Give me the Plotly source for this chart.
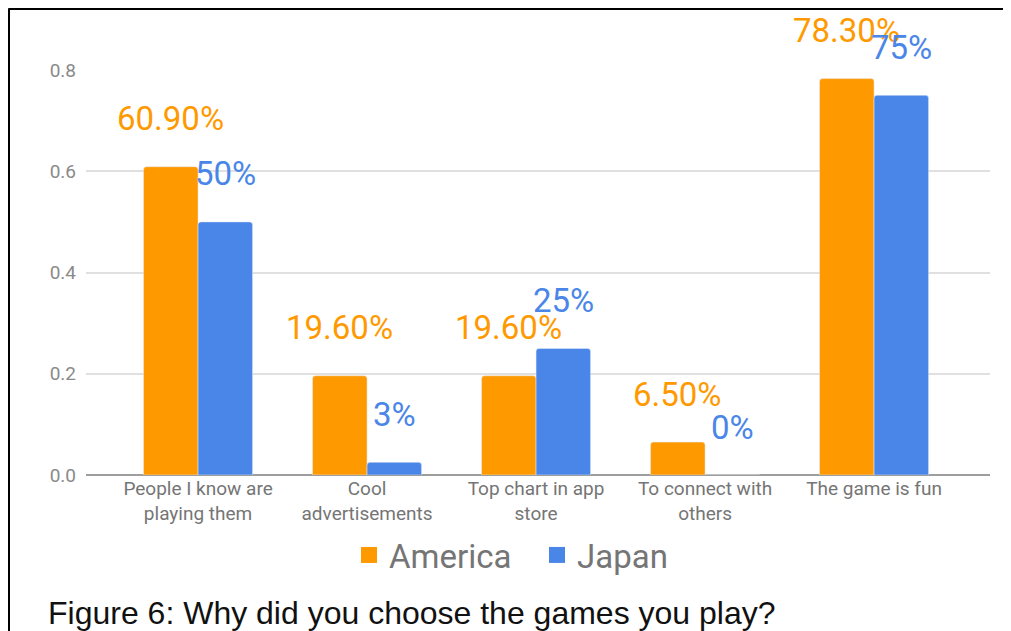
import plotly.graph_objects as go

categories = ["People I know are<br>playing them", "Cool<br>advertisements",
              "Top chart in app<br>store", "To connect with<br>others", "The game is fun"]
america = [0.609, 0.196, 0.196, 0.065, 0.783]
japan = [0.50, 0.025, 0.25, 0.0, 0.75]
america_labels = ["60.90%", "19.60%", "19.60%", "6.50%", "78.30%"]
japan_labels = ["50%", "3%", "25%", "0%", "75%"]
series_names = ["America", "Japan"]
caption = "Figure 6: Why did you choose the games you play?"

ORANGE = "#FF9900"
BLUE = "#4A86E8"
BARGAP = 0.355
OFF = 8  # page body offset in the screenshot

W, H = 1011 - OFF, 631 - OFF
L, R, T, B = 78, 21, 62, 156
pw, ph = W - L - R, H - T - B


def px_x(p):
    return (p - OFF - L) / pw


def px_y(p):
    return (H - B - (p - OFF)) / ph


fig = go.Figure()
fig.add_trace(go.Bar(x=categories, y=america, name=series_names[0], marker_color=ORANGE,
                     showlegend=False))
fig.add_trace(go.Bar(x=categories, y=japan, name=series_names[1], marker_color=BLUE,
                     showlegend=False))
# legend keys (larger square swatches)
for nm, col in zip(series_names, [ORANGE, BLUE]):
    fig.add_trace(go.Scatter(x=[None], y=[None], mode="markers", name=nm,
                             marker=dict(symbol="square", size=16, color=col)))

off = (1 - BARGAP) / 4
for i in range(len(categories)):
    fig.add_annotation(x=i - off, y=america[i], text=america_labels[i], showarrow=False,
                       yshift=48, xref="x", yref="y",
                       font=dict(family="Roboto", size=33, color=ORANGE))
    fig.add_annotation(x=i + off, y=japan[i], text=japan_labels[i], showarrow=False,
                       yshift=48, xref="x", yref="y",
                       font=dict(family="Roboto", size=33, color=BLUE))

fig.add_annotation(x=px_x(46), y=px_y(613), xref="paper", yref="paper", text=caption,
                   showarrow=False, xanchor="left", yanchor="middle",
                   font=dict(family="Liberation Sans, Arial", size=32, color="#111111"))

# frame lines (top and left)
fig.add_shape(type="line", xref="paper", yref="paper", x0=px_x(8.5), x1=px_x(1020),
              y0=px_y(8.5), y1=px_y(8.5), line=dict(color="black", width=3))
fig.add_shape(type="line", xref="paper", yref="paper", x0=px_x(8.5), x1=px_x(8.5),
              y0=px_y(8.5), y1=px_y(650), line=dict(color="black", width=3))

fig.update_layout(
    width=W, height=H,
    margin=dict(l=L, r=R, t=T, b=B, pad=0),
    paper_bgcolor="white", plot_bgcolor="white",
    barmode="group", bargap=BARGAP, bargroupgap=0, barcornerradius=3,
    font=dict(family="Roboto", color="#757575"),
    showlegend=True,
    legend=dict(orientation="h", x=px_x(537), y=px_y(555), xanchor="center", yanchor="middle",
                font=dict(family="Roboto", size=33, color="#757575"), itemwidth=30,
                entrywidth=143, entrywidthmode="pixels",
                bgcolor="rgba(0,0,0,0)"),
    xaxis=dict(range=[-0.663, 4.686], showgrid=False, showline=False, ticks="",
               tickfont=dict(family="Roboto", size=19, color="#757575")),
    yaxis=dict(range=[0, 0.8], dtick=0.2, tickformat=".1f", showgrid=True,
               gridcolor="#e0e0e0", gridwidth=1.5, zeroline=True, zerolinecolor="#9e9e9e",
               zerolinewidth=2, showline=False, ticks="", ticklabelstandoff=9,
               tickfont=dict(family="Roboto", size=19, color="#8a8a8a")),
)
fig.write_html("out.html")
